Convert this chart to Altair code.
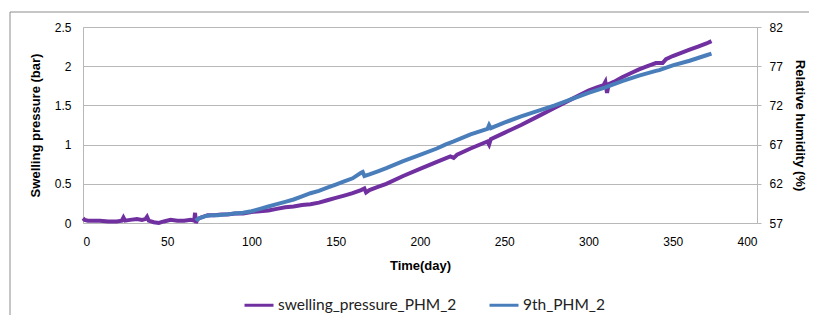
import altair as alt
import pandas as pd

# swelling pressure (bar), left axis
sp_day = [0, 1, 3, 6, 10, 15, 20, 23, 24, 25, 28, 32, 35, 37, 38, 39, 42, 45, 48, 52,
          56, 60, 64, 66, 66.5, 67, 68, 70, 74, 78, 82, 86, 90, 95, 100, 105, 110, 115,
          120, 125, 130, 135, 140, 145, 150, 155, 160, 165, 167, 168, 170, 175, 180, 190,
          200, 210, 218, 220, 222, 230, 240, 241, 242, 250, 260, 270, 280, 290, 300, 305,
          309, 310, 311, 312, 315, 320, 325, 330, 335, 340, 344, 346, 350, 355, 360, 365,
          370, 373]
sp_val = [0.06, 0.04, 0.03, 0.03, 0.03, 0.02, 0.02, 0.03, 0.07, 0.03, 0.04, 0.05, 0.04,
          0.05, 0.08, 0.03, 0.01, 0.0, 0.02, 0.04, 0.03, 0.03, 0.04, 0.03, 0.13, 0.0, 0.05,
          0.07, 0.1, 0.1, 0.11, 0.11, 0.12, 0.12, 0.14, 0.15, 0.16, 0.18, 0.2, 0.21, 0.23,
          0.24, 0.26, 0.29, 0.32, 0.35, 0.38, 0.42, 0.44, 0.39, 0.42, 0.46, 0.5, 0.6, 0.69,
          0.78, 0.85, 0.83, 0.87, 0.95, 1.04, 1.0, 1.07, 1.15, 1.25, 1.36, 1.47, 1.58, 1.69,
          1.73, 1.76, 1.8, 1.66, 1.77, 1.8, 1.86, 1.91, 1.96, 2.0, 2.04, 2.04, 2.09, 2.13,
          2.17, 2.21, 2.25, 2.29, 2.32]

# relative humidity (%), right axis
rh_day = [67, 68, 70, 73, 76, 80, 85, 90, 95, 100, 105, 110, 115, 120, 125, 130, 135, 140,
          145, 150, 155, 160, 165, 166, 167, 170, 175, 180, 190, 200, 210, 215, 220, 230,
          240, 241, 242, 250, 260, 270, 280, 290, 300, 310, 320, 330, 340, 342, 350, 360,
          370, 373]
rh_val = [57.3, 57.5, 57.7, 57.9, 58.0, 58.0, 58.1, 58.2, 58.3, 58.5, 58.8, 59.1, 59.4,
          59.7, 60.0, 60.4, 60.8, 61.1, 61.5, 61.9, 62.3, 62.7, 63.4, 63.5, 63.0, 63.2,
          63.6, 64.0, 64.9, 65.7, 66.5, 67.0, 67.4, 68.3, 69.0, 69.5, 69.1, 69.8, 70.6,
          71.3, 72.0, 72.8, 73.6, 74.3, 75.1, 75.8, 76.4, 76.5, 77.1, 77.7, 78.4, 78.6]

series_names = ["swelling_pressure_PHM_2", "9th_PHM_2"]
series_colors = ["#7030A0", "#4A7EBB"]
left_ticks = [0, 0.5, 1, 1.5, 2, 2.5]
right_ticks = [57, 62, 67, 72, 77, 82]
x_ticks = [0, 50, 100, 150, 200, 250, 300, 350, 400]

FONT = "Lato"
GRID = "#b8b8b8"

sp_df = pd.DataFrame({"day": sp_day, "value": sp_val, "series": series_names[0]})
rh_df = pd.DataFrame({"day": rh_day, "value": rh_val, "series": series_names[1]})

color = alt.Color("series:N",
                  scale=alt.Scale(domain=series_names, range=series_colors),
                  legend=alt.Legend(title=None, orient="none", legendX=160, legendY=262,
                                    direction="horizontal", symbolType="stroke",
                                    symbolSize=841, symbolStrokeWidth=3,
                                    labelFontSize=15.5, labelFont=FONT, labelColor="#222",
                                    labelLimit=400,
                                    columnPadding=26, labelOffset=3, padding=0))

xenc = alt.X("day:Q", scale=alt.Scale(domain=[0, 400], nice=False),
             axis=alt.Axis(values=x_ticks, title="Time(day)", grid=False, ticks=False,
                           domainColor=GRID, labelPadding=13, titlePadding=12,
                           labelFontSize=12, titleFontSize=13))

purple = alt.Chart(sp_df).mark_line(strokeWidth=4, clip=False).encode(
    x=xenc,
    y=alt.Y("value:Q", scale=alt.Scale(domain=[0, 2.5], nice=False),
            axis=alt.Axis(values=left_ticks, format="~g", title="Swelling pressure (bar)",
                          grid=True, gridColor=GRID, ticks=False, domainColor=GRID,
                          labelPadding=12, titlePadding=12, labelFontSize=12,
                          titleFontSize=13)),
    color=color,
)

blue = alt.Chart(rh_df).mark_line(strokeWidth=4).encode(
    x=xenc,
    y=alt.Y("value:Q", scale=alt.Scale(domain=[57, 82], nice=False),
            axis=alt.Axis(values=right_ticks, orient="right", title="Relative humidity (%)",
                          grid=False, ticks=True, tickSize=4, tickColor=GRID,
                          domainColor=GRID, labelPadding=8, titlePadding=10,
                          labelFontSize=12, titleFontSize=13)),
    color=color,
)

frame = alt.Chart(pd.DataFrame({"f": [0]})).mark_rect(
    fill=None, stroke="#8c8c8c", strokeWidth=1, clip=False
).encode(x=alt.value(-73), x2=alt.value(1000), y=alt.value(-15), y2=alt.value(500))

chart = alt.layer(frame, purple, blue).resolve_scale(y="independent").properties(
    width=674, height=196,
    autosize=alt.AutoSizeParams(type="none"),
    padding={"left": 75, "top": 19, "right": 52, "bottom": 92},
).configure_axis(
    labelFont=FONT, titleFont=FONT, labelColor="#222", titleColor="#111",
    titleFontWeight="bold", domainWidth=1,
).configure_view(stroke=None).configure(background="white")

chart.save("out.html", embed_options={"renderer": "svg", "actions": False})
